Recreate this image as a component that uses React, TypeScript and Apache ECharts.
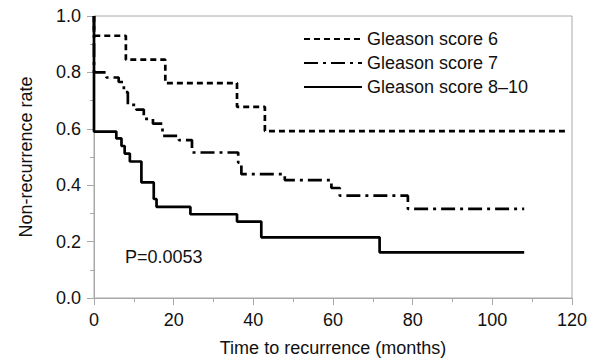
import React, { useEffect, useRef } from "react";
import * as echarts from "echarts";

const seriesNames = ["Gleason score 6", "Gleason score 7", "Gleason score 8–10"];

// [months, non-recurrence rate]
const gleason6: [number, number][] = [
  [0, 1.0], [0, 0.93], [8.0, 0.845], [17.9, 0.762], [35.9, 0.678], [42.9, 0.592], [119, 0.592],
];
const gleason7: [number, number][] = [
  [0, 1.0], [0, 0.8], [3.1, 0.782], [6.2, 0.766], [7.5, 0.73], [8.5, 0.685], [10.6, 0.668],
  [12.5, 0.635], [14.8, 0.618], [17.2, 0.575], [21.3, 0.56], [24.6, 0.516], [36.2, 0.48],
  [37.0, 0.439], [47.9, 0.418], [59.6, 0.39], [61.7, 0.363], [78.8, 0.316], [108, 0.316],
];
const gleason810: [number, number][] = [
  [0, 1.0], [0, 0.59], [5.6, 0.566], [6.9, 0.539], [7.7, 0.512], [9.0, 0.484], [11.9, 0.41],
  [15.0, 0.351], [15.7, 0.323], [24.2, 0.297], [35.9, 0.271], [42.0, 0.215], [71.7, 0.162],
  [108, 0.162],
];
const pValueText = "P=0.0053";
const xTitle = "Time to recurrence (months)";
const yTitle = "Non-recurrence rate";

const FONT = "'Liberation Sans', Arial, sans-serif";
const AXIS_GRAY = "#a8a8a8";
const INK = "#111";

export default function App() {
  const ref = useRef<HTMLDivElement>(null);
  useEffect(() => {
    if (!ref.current) return;
    const chart = echarts.init(ref.current, undefined, { renderer: "svg" });
    const axisCommon = {
      axisLine: { show: true, lineStyle: { color: AXIS_GRAY, width: 1 } },
      axisTick: { show: true, length: 7, lineStyle: { color: AXIS_GRAY } },
      minorTick: { show: true, splitNumber: 2, length: 4, lineStyle: { color: AXIS_GRAY } },
      splitLine: { show: false },
    };
    chart.setOption({
      animation: false,
      backgroundColor: "#ffffff",
      textStyle: { fontFamily: FONT },
      grid: {
        left: 94, right: 22, top: 16, bottom: 63,
        show: true, borderColor: AXIS_GRAY, borderWidth: 1,
      },
      xAxis: {
        type: "value", min: 0, max: 120, interval: 20,
        ...axisCommon,
        axisLabel: { fontSize: 18, color: INK, fontFamily: FONT, margin: 13 },
        name: xTitle, nameLocation: "middle", nameGap: 41,
        nameTextStyle: { fontSize: 18, color: INK, fontFamily: FONT },
      },
      yAxis: {
        type: "value", min: 0, max: 1, interval: 0.2,
        ...axisCommon,
        axisLabel: {
          fontSize: 18, color: INK, fontFamily: FONT, margin: 13,
          formatter: (v: number) => v.toFixed(1),
        },
        name: yTitle, nameLocation: "middle", nameGap: 59,
        nameTextStyle: { fontSize: 18, color: INK, fontFamily: FONT },
      },
      legend: {
        data: seriesNames,
        orient: "vertical",
        left: 298, top: 25,
        itemWidth: 58, itemHeight: 14, itemGap: 6,
        itemStyle: { opacity: 0 },
        textStyle: { fontSize: 18, lineHeight: 18, color: INK, fontFamily: FONT },
      },
      graphic: [
        {
          type: "text", left: 125, top: 248,
          style: { text: pValueText, fontSize: 18, fill: INK, fontFamily: FONT },
        },
      ],
      series: [
        {
          name: seriesNames[0], type: "line", step: "end", data: gleason6, symbol: "none",
          lineStyle: { color: "#000", width: 2.7, type: [6, 4] },
          itemStyle: { color: "#000" },
        },
        {
          name: seriesNames[1], type: "line", step: "end", data: gleason7, symbol: "none",
          lineStyle: { color: "#000", width: 2.7, type: [14, 5, 3, 5] },
          itemStyle: { color: "#000" },
        },
        {
          name: seriesNames[2], type: "line", step: "end", data: gleason810, symbol: "none",
          lineStyle: { color: "#000", width: 2.7, type: "solid" },
          itemStyle: { color: "#000" },
        },
      ],
    });
    return () => chart.dispose();
  }, []);
  return <div ref={ref} style={{ width: 594, height: 362, position: "absolute", left: 0, top: 0 }} />;
}
